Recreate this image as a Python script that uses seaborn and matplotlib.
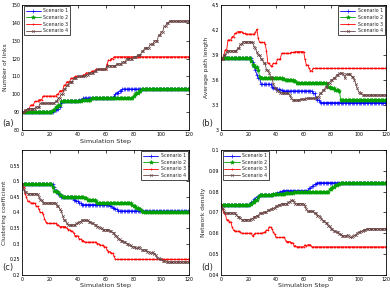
import numpy as np
import pandas as pd
import seaborn as sns
import matplotlib
matplotlib.use("Agg")
import matplotlib.pyplot as plt

# === DANE: punkty zmian (krok, wartosc), wartosc trzymana do nastepnej zmiany ===
STEPS = np.arange(0, 121)
SCENARIOS = ["Scenario 1", "Scenario 2", "Scenario 3", "Scenario 4"]

# (a) Number of links
links_s1 = [(0, 90), (23, 91), (25, 92), (27, 93), (28, 95), (29, 96), (41, 97), (44, 98),
            (66, 99), (67, 100), (68, 101), (70, 102), (72, 103)]
links_s2 = [(0, 90), (22, 91), (24, 93), (26, 94), (28, 96), (43, 97), (50, 98),
            (80, 99), (81, 100), (82, 101), (84, 102), (86, 103)]
links_s3 = [(0, 90), (2, 91), (4, 92), (6, 94), (9, 96), (12, 97), (15, 99), (25, 100), (27, 102),
            (30, 105), (32, 107), (35, 109), (38, 110), (44, 111), (46, 112), (50, 113), (53, 114),
            (61, 117), (62, 119), (64, 120), (66, 121)]
links_s4 = [(0, 90), (2, 91), (4, 92), (10, 93), (13, 95), (24, 96), (26, 98), (28, 100), (30, 103),
            (32, 105), (34, 107), (37, 109), (40, 110), (46, 111), (48, 112), (52, 113), (54, 114),
            (61, 116), (68, 117), (72, 118), (75, 120), (80, 121), (83, 122), (86, 124), (88, 126),
            (92, 128), (95, 130), (98, 133), (100, 135), (102, 138), (104, 140), (106, 141)]

# (b) Average path length
apl_s1 = [(0, 3.86), (23, 3.82), (24, 3.76), (25, 3.72), (26, 3.66), (27, 3.62), (29, 3.55),
          (37, 3.52), (38, 3.5), (40, 3.49), (43, 3.48), (45, 3.47), (67, 3.44), (69, 3.39),
          (70, 3.36), (72, 3.34), (73, 3.33)]
apl_s2 = [(0, 3.86), (22, 3.83), (23, 3.78), (25, 3.76), (27, 3.72), (28, 3.64), (29, 3.62),
          (45, 3.61), (47, 3.6), (53, 3.59), (55, 3.57), (77, 3.55), (78, 3.52), (80, 3.5),
          (83, 3.48), (86, 3.47), (87, 3.36)]
apl_s3 = [(0, 3.85), (2, 3.9), (3, 3.96), (5, 4.08), (8, 4.12), (10, 4.16), (12, 4.18), (16, 4.16),
          (18, 4.15), (25, 4.17), (26, 4.21), (27, 4.1), (28, 4.05), (32, 4.03), (33, 3.95),
          (34, 3.8), (36, 3.77), (38, 3.8), (41, 3.85), (44, 3.92), (51, 3.93), (54, 3.94),
          (61, 3.85), (62, 3.78), (64, 3.74), (65, 3.71), (67, 3.74)]
apl_s4 = [(0, 3.85), (2, 3.9), (4, 3.94), (5, 3.95), (12, 3.98), (14, 4.03), (16, 4.06),
          (22, 4.05), (24, 4.0), (25, 3.98), (26, 3.93), (27, 3.9), (29, 3.85), (31, 3.8),
          (33, 3.72), (35, 3.68), (36, 3.64), (37, 3.62), (38, 3.55), (39, 3.5), (41, 3.47),
          (43, 3.45), (45, 3.44), (50, 3.42), (51, 3.38), (52, 3.36), (58, 3.37), (62, 3.38),
          (70, 3.4), (72, 3.44), (74, 3.48), (76, 3.52), (78, 3.57), (80, 3.6), (82, 3.63),
          (84, 3.66), (86, 3.68), (89, 3.67), (90, 3.62), (91, 3.67), (95, 3.64), (97, 3.6),
          (98, 3.55), (99, 3.5), (100, 3.46), (101, 3.44), (103, 3.42)]

# (c) Clustering coefficient
cc_s1 = [(0, 0.49), (23, 0.48), (24, 0.47), (26, 0.46), (28, 0.45), (37, 0.44), (39, 0.435),
         (41, 0.43), (43, 0.425), (63, 0.42), (65, 0.415), (67, 0.41), (69, 0.405)]
cc_s2 = [(0, 0.49), (22, 0.48), (23, 0.47), (25, 0.465), (27, 0.455), (29, 0.45), (45, 0.445),
         (47, 0.44), (53, 0.435), (54, 0.43), (79, 0.425), (80, 0.42), (82, 0.415), (84, 0.41),
         (86, 0.405), (87, 0.402)]
cc_s3 = [(0, 0.49), (1, 0.48), (2, 0.46), (3, 0.45), (4, 0.435), (6, 0.43), (10, 0.42), (12, 0.41),
         (13, 0.40), (15, 0.395), (16, 0.38), (17, 0.37), (18, 0.365), (25, 0.36), (27, 0.355),
         (32, 0.35), (33, 0.345), (35, 0.34), (37, 0.335), (38, 0.325), (41, 0.315), (43, 0.31),
         (45, 0.305), (54, 0.30), (56, 0.295), (59, 0.29), (61, 0.28), (62, 0.275), (64, 0.27),
         (66, 0.26), (67, 0.25)]
cc_s4 = [(0, 0.49), (1, 0.475), (2, 0.465), (4, 0.46), (12, 0.45), (13, 0.44), (15, 0.43),
         (25, 0.42), (27, 0.41), (28, 0.405), (29, 0.39), (30, 0.375), (32, 0.365), (33, 0.36),
         (39, 0.365), (41, 0.37), (43, 0.375), (48, 0.37), (50, 0.365), (52, 0.36), (54, 0.355),
         (56, 0.35), (58, 0.345), (63, 0.34), (65, 0.335), (67, 0.325), (69, 0.315), (71, 0.31),
         (73, 0.305), (75, 0.30), (77, 0.295), (79, 0.29), (82, 0.285), (84, 0.29), (85, 0.285),
         (86, 0.28), (90, 0.275), (92, 0.27), (94, 0.272), (95, 0.268), (96, 0.265), (97, 0.255),
         (99, 0.25), (101, 0.245), (104, 0.242)]

# (d) Network density
nd_s1 = [(0, 0.0735), (21, 0.074), (22, 0.075), (24, 0.0765), (26, 0.0775), (28, 0.0785),
         (38, 0.079), (41, 0.0795), (43, 0.08), (45, 0.0805), (64, 0.0815), (66, 0.0825),
         (68, 0.0835), (70, 0.0843)]
nd_s2 = [(0, 0.0735), (21, 0.074), (23, 0.075), (25, 0.076), (27, 0.0775), (28, 0.0783),
         (38, 0.0787), (42, 0.079), (47, 0.0795), (53, 0.08), (79, 0.081), (81, 0.082),
         (83, 0.083), (85, 0.0838), (87, 0.0843)]
nd_s3 = [(0, 0.0735), (1, 0.0715), (2, 0.0695), (4, 0.0665), (6, 0.0655), (8, 0.063), (9, 0.0615),
         (10, 0.061), (14, 0.0605), (15, 0.06), (23, 0.0585), (24, 0.0595), (25, 0.06),
         (31, 0.0605), (33, 0.0615), (35, 0.063), (37, 0.062), (38, 0.0605), (39, 0.0595),
         (40, 0.058), (47, 0.0565), (48, 0.056), (51, 0.0555), (53, 0.054), (55, 0.0535),
         (61, 0.0545), (62, 0.0538), (63, 0.0545), (66, 0.0535)]
nd_s4 = [(0, 0.0735), (1, 0.072), (2, 0.0705), (3, 0.0698), (11, 0.069), (12, 0.068), (14, 0.0672),
         (15, 0.0665), (22, 0.067), (24, 0.068), (26, 0.0685), (28, 0.0695), (31, 0.07),
         (34, 0.071), (36, 0.0715), (38, 0.072), (40, 0.073), (42, 0.0738), (44, 0.0742),
         (49, 0.075), (51, 0.0758), (53, 0.075), (54, 0.0742), (61, 0.073), (62, 0.0715),
         (63, 0.0705), (68, 0.0695), (70, 0.0685), (72, 0.068), (73, 0.067), (74, 0.066),
         (76, 0.065), (78, 0.0635), (80, 0.062), (82, 0.061), (84, 0.0605), (86, 0.0595),
         (88, 0.0588), (92, 0.0593), (93, 0.0585), (94, 0.058), (96, 0.0585), (97, 0.059),
         (99, 0.06), (100, 0.0605), (102, 0.061), (104, 0.0618), (106, 0.0622)]

# === STYL ===
COLORS = ["#0000ff", "#00a000", "#ff0000", "#6b4646"]
MARKERS = ["+", "*", ".", "x"]
MSIZES = [2.6, 3.0, 1.6, 1.9]


def expand(points):
    # wartosc trzymana od punktu zmiany do nastepnego
    cp = np.array([p[0] for p in points])
    vals = np.array([p[1] for p in points], dtype=float)
    idx = np.searchsorted(cp, STEPS, side="right") - 1
    return vals[idx]


sns.set_theme(style="white")
plt.rcParams["font.family"] = ["DejaVu Sans"]

fig = plt.figure(figsize=(3.9, 2.91), dpi=100)
positions = [
    [0.057, 0.553, 0.428, 0.430],
    [0.567, 0.553, 0.423, 0.430],
    [0.057, 0.055, 0.428, 0.430],
    [0.567, 0.055, 0.423, 0.430],
]

panels = [
    dict(series=[links_s1, links_s2, links_s3, links_s4], ylabel="Number of links",
         ylim=(80, 150), yticks=[80, 90, 100, 110, 120, 130, 140, 150],
         xlabel=True, leg="upper left", tag="(a)"),
    dict(series=[apl_s1, apl_s2, apl_s3, apl_s4], ylabel="Average path length",
         ylim=(3.0, 4.5), yticks=[3.0, 3.3, 3.6, 3.9, 4.2, 4.5],
         xlabel=False, leg="upper right", tag="(b)"),
    dict(series=[cc_s1, cc_s2, cc_s3, cc_s4], ylabel="Clustering coefficient",
         ylim=(0.2, 0.6), yticks=[0.2, 0.25, 0.3, 0.35, 0.4, 0.45, 0.5, 0.55],
         xlabel=True, leg="upper right", tag="(c)"),
    dict(series=[nd_s1, nd_s2, nd_s3, nd_s4], ylabel="Network density",
         ylim=(0.04, 0.1), yticks=[0.04, 0.05, 0.06, 0.07, 0.08, 0.09, 0.1],
         xlabel=True, leg="upper left", tag="(d)"),
]

for pos, p in zip(positions, panels):
    ax = fig.add_axes(pos)
    for name, pts, c, m, ms in zip(SCENARIOS, p["series"], COLORS, MARKERS, MSIZES):
        df = pd.DataFrame({"step": STEPS, "value": expand(pts)})
        sns.lineplot(data=df, x="step", y="value", ax=ax, color=c, marker=m,
                     markersize=ms, markeredgewidth=0.45, markeredgecolor=c,
                     linewidth=0.6, label=name)
    ax.set_xlim(0, 120)
    ax.set_xticks([0, 20, 40, 60, 80, 100, 120])
    ax.set_ylim(*p["ylim"])
    ax.set_yticks(p["yticks"])
    ax.set_yticklabels([f"{v:g}" for v in p["yticks"]])
    ax.tick_params(direction="in", length=2, width=0.5, labelsize=3.4, pad=1.5,
                   top=True, right=True, colors="black")
    for sp in ax.spines.values():
        sp.set_color("black")
        sp.set_linewidth(0.6)
    ax.set_ylabel(p["ylabel"], fontsize=4.3, labelpad=2)
    ax.set_xlabel("Simulation Step" if p["xlabel"] else "", fontsize=4.6, labelpad=1)
    leg = ax.legend(loc=p["leg"], fontsize=3.4, frameon=True, fancybox=False,
                    edgecolor="black", framealpha=1, handlelength=3.2,
                    borderpad=0.4, labelspacing=0.35, handletextpad=0.5,
                    borderaxespad=0.3)
    leg.get_frame().set_linewidth(0.5)
    ax.text(-0.12, 0.02, p["tag"], transform=ax.transAxes, fontsize=6,
            ha="left", va="bottom")

fig.savefig("out.png", dpi=100)
